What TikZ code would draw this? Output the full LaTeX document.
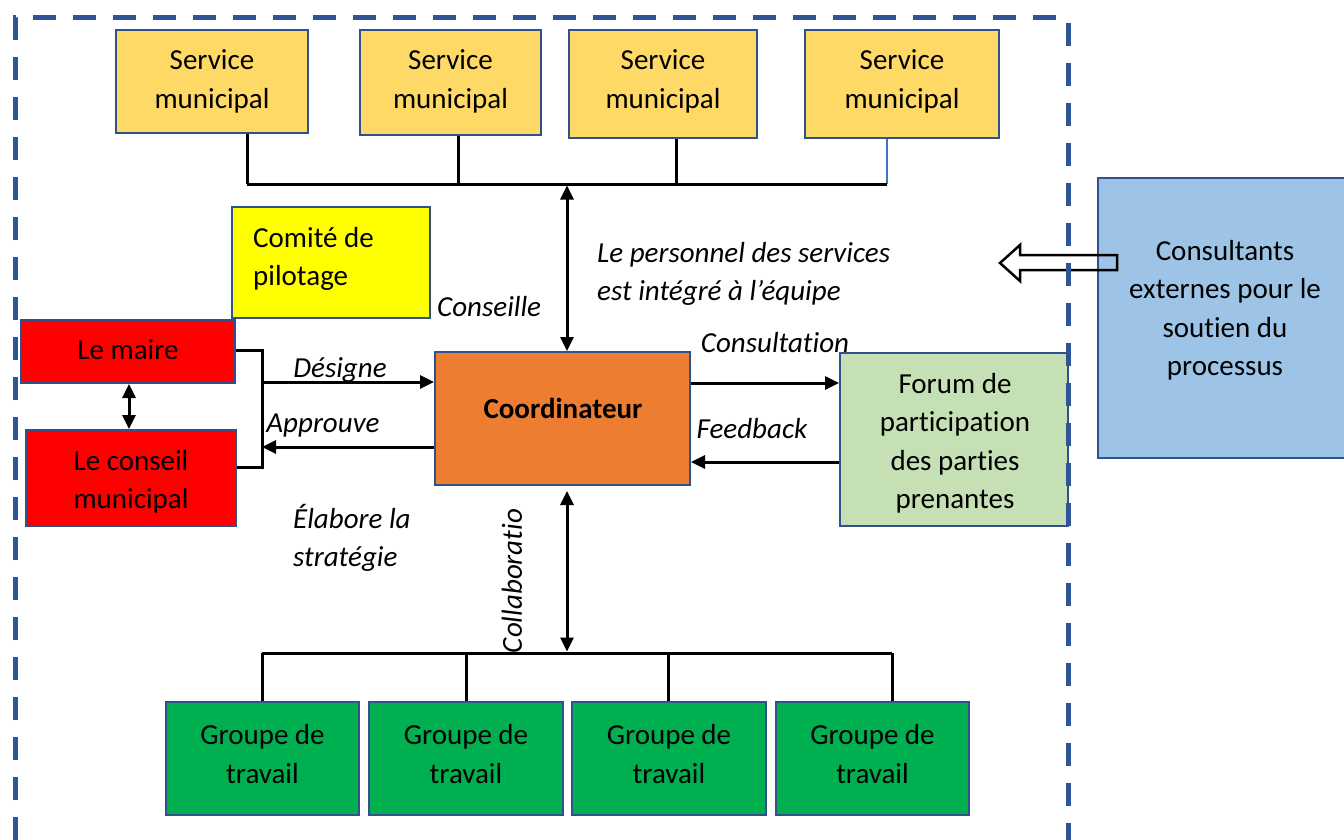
\documentclass[tikz,border=0pt]{standalone}
\usepackage{fontspec}
\setmainfont{Carlito}[Ligatures={NoCommon}]
\usetikzlibrary{arrows.meta}
\definecolor{bordc}{RGB}{47,82,143}
\definecolor{dashc}{RGB}{47,85,151}
\definecolor{servc}{RGB}{255,217,102}
\definecolor{comc}{RGB}{255,255,0}
\definecolor{redc}{RGB}{255,0,0}
\definecolor{coc}{RGB}{237,125,49}
\definecolor{forc}{RGB}{197,224,180}
\definecolor{consc}{RGB}{157,195,230}
\definecolor{grpc}{RGB}{0,176,80}
\definecolor{dropblue}{RGB}{68,114,196}
\begin{document}
\begin{tikzpicture}[x=1pt,y=-1pt,
  font=\fontsize{29}{38.5}\selectfont,
  box/.style={draw=bordc, line width=2pt, inner sep=0pt},
  txt/.style={inner sep=0pt, align=center},
  conn/.style={line width=3pt, draw=black},
  arr/.style={conn, -{Triangle[length=14pt,width=13pt]}},
  darr/.style={conn, {Triangle[length=14pt,width=13pt]}-{Triangle[length=14pt,width=13pt]}},
  lbl/.style={font=\fontsize{29}{38.5}\selectfont\itshape, inner sep=0pt, align=left}
]
\useasboundingbox (0,0) rectangle (1344,840);

% top services
\node[box, fill=servc, minimum width=192pt, minimum height=103pt] (s1) at (212,81.5) {};
\node[box, fill=servc, minimum width=181pt, minimum height=105pt] (s2) at (450.5,82.5) {};
\node[box, fill=servc, minimum width=188pt, minimum height=108pt] (s3) at (663,84) {};
\node[box, fill=servc, minimum width=194pt, minimum height=108pt] (s4) at (902,84) {};
\node[txt] (s1t) at (212,81.5) {Service\\municipal};
\node[txt] (s2t) at (450.5,81.5) {Service\\municipal};
\node[txt] (s3t) at (663,81.5) {Service\\municipal};
\node[txt] (s4t) at (902,81.5) {Service\\municipal};

\coordinate (b1) at (247,184);
\coordinate (b2) at (458,184);
\coordinate (b3) at (676,184);
\coordinate (b4) at (887,184);
\coordinate (bt) at (567,184);
\draw[conn] (b1) -- (b1 |- s1.south);
\draw[conn] (b2) -- (b2 |- s2.south);
\draw[conn] (b3) -- (b3 |- s3.south);
\draw[line width=2pt, draw=dropblue] (b4) -- (b4 |- s4.south);
\draw[conn] (b1) -- (b4);

% steering committee
\node[box, fill=comc, minimum width=198pt, minimum height=111pt] (com) at (331,262.5) {};
\node[txt, align=left, anchor=west] (comt) at (253,259) {Comité de\\pilotage};

% mayor and council
\node[box, fill=redc, minimum width=214pt, minimum height=63pt] (maire) at (128,351.5) {};
\node[txt] (mairet) at (128,350) {Le maire};
\node[box, fill=redc, minimum width=210pt, minimum height=96pt] (conseil) at (131,478) {};
\node[txt] (conseilt) at (131,482) {Le conseil\\municipal};

% coordinator
\node[box, fill=coc, minimum width=255pt, minimum height=133pt] (co) at (562.5,418.5) {};
\node[txt, font=\fontsize{29}{38.5}\selectfont\bfseries] (cot) at (563,408) {Coordinateur};

% forum
\node[box, fill=forc, minimum width=228pt, minimum height=173pt] (forum) at (954,439.5) {};
\node[txt] (forumt) at (955,443.5) {Forum de\\participation\\des parties\\prenantes};

% consultants
\node[box, fill=consc, minimum width=252pt, minimum height=280pt] (cons) at (1224,318) {};
\node[txt] (const) at (1225,310.5) {Consultants\\externes pour le\\soutien du\\processus};

% working groups
\node[box, fill=grpc, minimum width=193pt, minimum height=113pt] (g1n) at (262.5,758.5) {};
\node[box, fill=grpc, minimum width=194pt, minimum height=113pt] (g2n) at (466,758.5) {};
\node[box, fill=grpc, minimum width=194pt, minimum height=113pt] (g3n) at (669,758.5) {};
\node[box, fill=grpc, minimum width=193pt, minimum height=113pt] (g4n) at (872.5,758.5) {};
\node[txt] (g1t) at (262.5,754) {Groupe de\\travail};
\node[txt] (g2t) at (466,754) {Groupe de\\travail};
\node[txt] (g3t) at (669,754) {Groupe de\\travail};
\node[txt] (g4t) at (872.5,754) {Groupe de\\travail};

\coordinate (g1) at (262,653);
\coordinate (g2) at (466,653);
\coordinate (g3) at (668,653);
\coordinate (g4) at (892,653);
\coordinate (gb) at (567,653);
\draw[conn] (g1) -- (g4);
\draw[conn] (g1) -- (g1 |- g1n.north);
\draw[conn] (g2) -- (g2 |- g2n.north);
\draw[conn] (g3) -- (g3 |- g3n.north);
\draw[conn] (g4) -- (g4 |- g4n.north);

% connectors
\draw[darr, shorten <=1.5pt] (bt) -- (bt |- co.north);
\draw[darr, shorten <=5pt, shorten >=1.5pt] (gb |- co.south) -- (gb);
\draw[darr] (maire.south -| 129,0) -- (conseil.north -| 129,0);
\coordinate (br) at (262,350);
\draw[conn] (maire.east |- br) -- (br) -- (br |- 0,467) -- (conseil.east |- 0,467);
\coordinate (ds) at (262,382);
\coordinate (ap) at (262,447);
\draw[arr] (ds) -- (co.west |- ds);
\draw[arr] (co.west |- ap) -- (ap);
\draw[arr] (co.east |- 0,383) -- (forum.west |- 0,383);
\draw[arr] (forum.west |- 0,462) -- (co.east |- 0,462);

% hollow arrow from consultants
\draw[line width=2.5pt, line join=miter] (1117,255) -- (1020,255) -- (1020,245) -- (1000,263) -- (1020,281) -- (1020,270) -- (1117,270) -- cycle;

% labels
\node[lbl, anchor=west] (lcons) at (437,307) {Conseille};
\node[lbl, anchor=west] (lpers) at (597,274) {Le personnel des services\\est intégré à l\symbol{39}équipe};
\node[lbl] (ldes) at (340,370) {Désigne};
\node[lbl] (lapp) at (323,426) {Approuve};
\node[lbl] (lcst) at (775,343) {Consultation};
\node[lbl] (lfb) at (752,429) {Feedback};
\node[lbl, anchor=west] (lela) at (293,538) {Élabore la\\stratégie};
\node[lbl, rotate=90] (lcol) at (512,581) {Collaboratio};

% dashed frame
\draw[draw=dashc, line width=5pt, dash pattern=on 23pt off 17pt] (15,880) -- (15,18) -- (1068,18) -- (1068,880);
\end{tikzpicture}
\end{document}
